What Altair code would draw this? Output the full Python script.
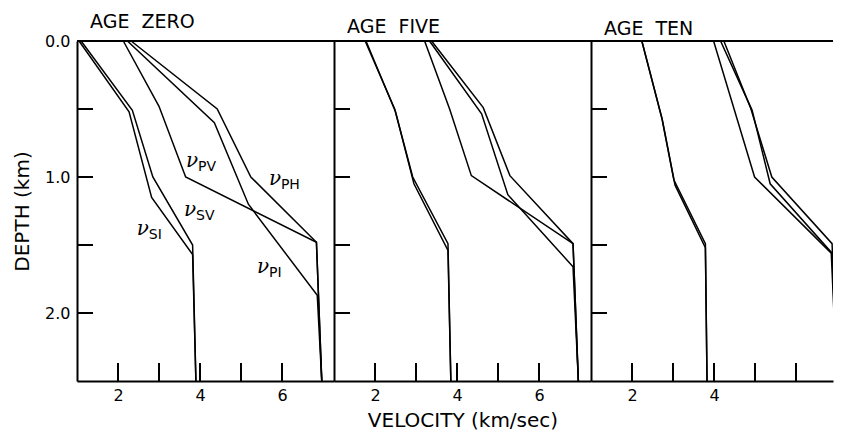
import altair as alt
import pandas as pd

PANEL_TITLES = ["AGE\u00a0\u00a0ZERO", "AGE\u00a0\u00a0FIVE", "AGE\u00a0\u00a0TEN"]
SERIES = ["SI", "SV", "PV", "PH", "PI"]

# ---- Age zero (velocity km/s, depth km) ----
ZERO_SI_V = [1.05, 2.27, 2.82, 3.82, 3.90]
ZERO_SI_D = [0.0, 0.52, 1.15, 1.57, 2.5]
ZERO_SV_V = [1.10, 2.35, 2.85, 3.82, 3.90]
ZERO_SV_D = [0.0, 0.51, 1.00, 1.50, 2.5]
ZERO_PV_V = [2.13, 3.00, 3.65, 6.84, 6.97]
ZERO_PV_D = [0.0, 0.48, 1.00, 1.48, 2.5]
ZERO_PH_V = [2.32, 4.42, 5.24, 6.84, 6.97]
ZERO_PH_D = [0.0, 0.50, 1.00, 1.48, 2.5]
ZERO_PI_V = [2.23, 4.35, 5.18, 6.86, 6.97]
ZERO_PI_D = [0.0, 0.60, 1.20, 1.87, 2.5]

# ---- Age five ----
FIVE_SI_V = [1.78, 2.50, 2.95, 3.78, 3.85]
FIVE_SI_D = [0.0, 0.52, 1.05, 1.54, 2.5]
FIVE_SV_V = [1.76, 2.48, 2.92, 3.78, 3.85]
FIVE_SV_D = [0.0, 0.50, 1.00, 1.49, 2.5]
FIVE_PV_V = [3.21, 3.82, 4.35, 6.83, 6.96]
FIVE_PV_D = [0.0, 0.50, 0.99, 1.49, 2.5]
FIVE_PH_V = [3.38, 4.64, 5.29, 6.83, 6.96]
FIVE_PH_D = [0.0, 0.49, 0.99, 1.49, 2.5]
FIVE_PI_V = [3.33, 4.60, 5.24, 6.83, 6.96]
FIVE_PI_D = [0.0, 0.535, 1.13, 1.66, 2.5]

# ---- Age ten ----
TEN_SI_V = [2.24, 2.74, 3.05, 3.79, 3.83]
TEN_SI_D = [0.0, 0.58, 1.06, 1.52, 2.5]
TEN_SV_V = [2.24, 2.73, 3.02, 3.79, 3.83]
TEN_SV_D = [0.0, 0.57, 1.02, 1.49, 2.5]
TEN_PV_V = [3.99, 4.99, 6.86, 7.00]
TEN_PV_D = [0.0, 1.00, 1.56, 2.5]
TEN_PH_V = [4.24, 4.89, 5.41, 6.88, 7.00]
TEN_PH_D = [0.0, 0.49, 1.00, 1.49, 2.5]
TEN_PI_V = [4.16, 4.93, 5.37, 6.88, 7.00]
TEN_PI_D = [0.0, 0.51, 1.05, 1.56, 2.5]

# curve labels (age zero panel)
LABEL_SUB = ["PV", "PH", "SV", "SI", "PI"]
LABEL_V = [3.66, 5.68, 3.61, 2.46, 5.39]
LABEL_D = [0.923, 1.062, 1.29, 1.43, 1.707]

DEPTH_TICKS = [0.5, 1.0, 1.5, 2.0]
VEL_TICKS = [2, 3, 4, 5, 6]
VEL_LABELS = [[2, 4, 6], [2, 4, 6], [2, 4]]
DEPTH_LABELS = [0, 1, 2]

PANEL_DATA = [
    {"SI": (ZERO_SI_V, ZERO_SI_D), "SV": (ZERO_SV_V, ZERO_SV_D), "PV": (ZERO_PV_V, ZERO_PV_D),
     "PH": (ZERO_PH_V, ZERO_PH_D), "PI": (ZERO_PI_V, ZERO_PI_D)},
    {"SI": (FIVE_SI_V, FIVE_SI_D), "SV": (FIVE_SV_V, FIVE_SV_D), "PV": (FIVE_PV_V, FIVE_PV_D),
     "PH": (FIVE_PH_V, FIVE_PH_D), "PI": (FIVE_PI_V, FIVE_PI_D)},
    {"SI": (TEN_SI_V, TEN_SI_D), "SV": (TEN_SV_V, TEN_SV_D), "PV": (TEN_PV_V, TEN_PV_D),
     "PH": (TEN_PH_V, TEN_PH_D), "PI": (TEN_PI_V, TEN_PI_D)},
]

H = 340
PX_PER_UNIT = 41.0
WIDTHS = [257, 257, 242]   # last panel is cut off at the page edge, as in the original
FONT = "DejaVu Sans"


def make_panel(k):
    W = WIDTHS[k]
    xmax = 1 + W / PX_PER_UNIT
    xscale = alt.Scale(domain=[1, xmax], nice=False, zero=False)
    yscale = alt.Scale(domain=[0, 2.5], nice=False, zero=False, reverse=True)

    rows = []
    for s in SERIES:
        vs, ds = PANEL_DATA[k][s]
        for i, (v, d) in enumerate(zip(vs, ds)):
            rows.append({"series": s, "i": i, "v": v, "d": d})
    df = pd.DataFrame(rows)

    x_axis = alt.Axis(
        values=VEL_LABELS[k], ticks=False, tickSize=0, grid=False,
        domain=True, domainColor="black", domainWidth=2,
        labelFontSize=16, labelPadding=6, labelColor="black", labelFont=FONT,
        title="VELOCITY (km/sec)" if k == 1 else None,
        titleFontSize=20, titleFont=FONT, titleFontWeight="normal",
        titleColor="black", titlePadding=7,
    )
    y_axis = alt.Axis(
        values=DEPTH_LABELS, format=".1f", ticks=False, tickSize=0, grid=False,
        domain=True, domainColor="black", domainWidth=2,
        labels=(k == 0), labelFontSize=16, labelPadding=7, labelColor="black",
        labelFont=FONT,
        title="DEPTH (km)" if k == 0 else None,
        titleFontSize=20, titleFont=FONT, titleFontWeight="normal",
        titleColor="black", titlePadding=12,
    )
    X = lambda f: alt.X(f, scale=xscale, axis=x_axis)
    Y = lambda f: alt.Y(f, scale=yscale, axis=y_axis)

    lines = alt.Chart(df).mark_line(
        color="black", strokeWidth=1.5, clip=(k == 2)
    ).encode(
        x=X("v:Q"), y=Y("d:Q"),
        detail="series:N",
        order="i:Q",
    )

    left_ticks = alt.Chart(pd.DataFrame({"d": DEPTH_TICKS})).mark_rule(
        color="black", strokeWidth=2
    ).encode(
        y=Y("d:Q"),
        x=alt.value(0), x2=alt.value(16),
    )
    bottom_ticks = alt.Chart(pd.DataFrame({"v": VEL_TICKS})).mark_rule(
        color="black", strokeWidth=2
    ).encode(
        x=X("v:Q"),
        y=alt.value(H), y2=alt.value(H - 18),
    )
    top_line = alt.Chart(pd.DataFrame({"d": [0.0]})).mark_rule(
        color="black", strokeWidth=2
    ).encode(
        y=Y("d:Q"),
        x=alt.value(0), x2=alt.value(W),
    )

    layers = [lines, left_ticks, bottom_ticks, top_line]

    if k == 0:
        lab = pd.DataFrame({"sub": LABEL_SUB, "v": LABEL_V, "d": LABEL_D})
        nu = alt.Chart(lab).mark_text(
            text="ν", font="DejaVu Serif", fontStyle="italic", fontSize=20,
            align="left", baseline="alphabetic", color="black",
        ).encode(x=X("v:Q"), y=Y("d:Q"))
        sub = alt.Chart(lab).mark_text(
            font=FONT, fontSize=14, align="left", baseline="alphabetic",
            dx=12, dy=4, color="black",
        ).encode(x=X("v:Q"), y=Y("d:Q"), text="sub:N")
        layers += [nu, sub]

    return alt.layer(*layers).properties(
        width=W, height=H,
        title=alt.TitleParams(
            PANEL_TITLES[k], anchor="start", frame="group", dx=13, offset=1,
            fontSize=19, font=FONT, fontWeight="normal", color="black",
        ),
    )


chart = alt.hconcat(*[make_panel(k) for k in range(3)], spacing=0, bounds="flush").properties(
    padding={"left": 4, "top": 5, "right": 0, "bottom": 0},
    background="white",
).configure_view(strokeWidth=0)

chart.save("out.html", embed_options={"renderer": "svg", "actions": False})
